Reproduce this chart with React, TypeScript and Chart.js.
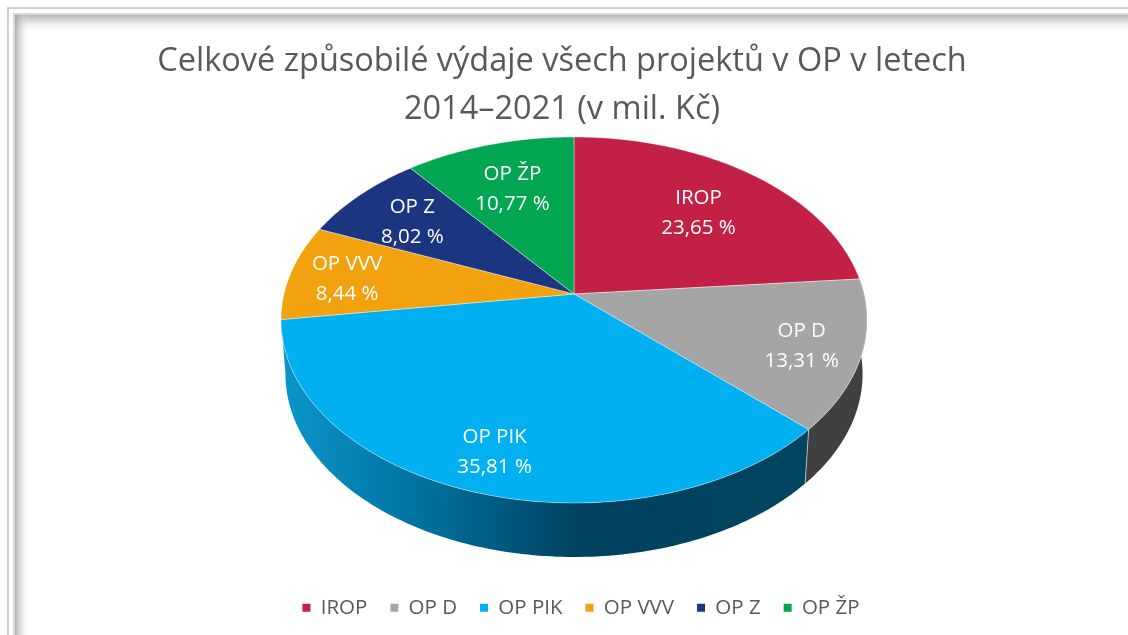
import React, { useEffect, useRef } from "react";
import { Chart, registerables } from "chart.js";

Chart.register(...registerables);

const categories = ["IROP", "OP D", "OP PIK", "OP VVV", "OP Z", "OP ŽP"];
const shares = [23.65, 13.31, 35.81, 8.44, 8.02, 10.77];
const sliceColors = ["#C32046", "#A5A5A5", "#00B0F0", "#F2A10F", "#1B3581", "#00A651"];
const titleLines = ["Celkové způsobilé výdaje všech projektů v OP v letech", "2014–2021 (v mil. Kč)"];
const labelRadii = [0.68, 0.8, 0.81, 0.8, 0.74, 0.7];

const FONT = '"Open Sans", sans-serif';
const CX = 574;
const CY = 294;
const K = 0.142;
const A = 179.3;
const B = 290;
const DEPTH = 54;
const LOWER_X = 0.985;

const project = (theta: number, f = 1, lower = false) => {
  const u = f * Math.sin(theta);
  const v = -f * Math.cos(theta);
  const d = 1 - K * v;
  const X = (B * u) / d;
  const Y = (A * v) / d;
  return lower ? { x: CX + X * LOWER_X, y: CY + Y + DEPTH } : { x: CX + X, y: CY + Y };
};

const sideFill = (ctx: CanvasRenderingContext2D, i: number) => {
  if (i === 1) return "#404040";
  if (i === 2) {
    const g = ctx.createLinearGradient(285, 0, 803, 0);
    g.addColorStop(0, "#0A95C8");
    g.addColorStop(0.3, "#006C98");
    g.addColorStop(0.57, "#004160");
    g.addColorStop(1, "#00455F");
    return g;
  }
  return "#555555";
};

const framePlugin = {
  id: "frame",
  beforeDraw(chart: any) {
    const { ctx, width, height } = chart;
    ctx.save();
    ctx.fillStyle = "#ffffff";
    ctx.fillRect(0, 0, width, height);
    const top = ctx.createLinearGradient(0, 15, 0, 33);
    top.addColorStop(0, "rgba(160,160,160,0.8)");
    top.addColorStop(0.4, "rgba(190,190,190,0.45)");
    top.addColorStop(1, "rgba(255,255,255,0)");
    ctx.fillStyle = top;
    ctx.fillRect(15, 15, width - 15, 18);
    const left = ctx.createLinearGradient(15, 0, 30, 0);
    left.addColorStop(0, "rgba(160,160,160,0.8)");
    left.addColorStop(0.4, "rgba(190,190,190,0.45)");
    left.addColorStop(1, "rgba(255,255,255,0)");
    ctx.fillStyle = left;
    ctx.fillRect(15, 15, 15, height - 15);
    ctx.fillStyle = "#CFCFCF";
    ctx.fillRect(7, 7, width - 7, 2);
    ctx.fillRect(7, 7, 2, height - 7);
    ctx.fillStyle = "#DADADA";
    ctx.fillRect(13, 13, width - 13, 2);
    ctx.fillRect(13, 13, 2, height - 13);
    ctx.restore();
  },
};

const shiftPlugin = {
  id: "shift",
  afterLayout(chart: any) {
    chart.titleBlock.left -= 2;
    chart.titleBlock.right -= 2;
    chart.legend.left += 17;
    chart.legend.right += 17;
  },
};

const pie3dPlugin = {
  id: "pie3d",
  beforeDatasetsDraw(chart: any) {
    const { ctx } = chart;
    const arcs = chart.getDatasetMeta(0).data;
    const range = (arc: any) => {
      const a0 = arc.startAngle + Math.PI / 2;
      const a1 = arc.endAngle + Math.PI / 2;
      const n = Math.max(2, Math.ceil(((a1 - a0) * 180) / Math.PI));
      return Array.from({ length: n + 1 }, (_, j) => a0 + ((a1 - a0) * j) / n);
    };
    ctx.save();
    ctx.lineJoin = "round";
    // extruded wall, front slices only
    [1, 2].forEach((i) => {
      const angles = range(arcs[i]);
      ctx.beginPath();
      angles.forEach((t: number, j: number) => {
        const p = project(t);
        j ? ctx.lineTo(p.x, p.y) : ctx.moveTo(p.x, p.y);
      });
      [...angles].reverse().forEach((t: number) => {
        const p = project(t, 1, true);
        ctx.lineTo(p.x, p.y);
      });
      ctx.closePath();
      ctx.fillStyle = sideFill(ctx, i);
      ctx.fill();
    });
    const seam = arcs[1].endAngle + Math.PI / 2;
    const s0 = project(seam);
    const s1 = project(seam, 1, true);
    ctx.strokeStyle = "rgba(255,255,255,0.55)";
    ctx.lineWidth = 1;
    ctx.beginPath();
    ctx.moveTo(s0.x, s0.y);
    ctx.lineTo(s1.x, s1.y);
    ctx.stroke();
    // top faces
    arcs.forEach((arc: any) => {
      ctx.beginPath();
      ctx.moveTo(CX, CY);
      range(arc).forEach((t: number) => {
        const p = project(t);
        ctx.lineTo(p.x, p.y);
      });
      ctx.closePath();
      ctx.fillStyle = arc.options.backgroundColor;
      ctx.fill();
      ctx.strokeStyle = "rgba(255,255,255,0.4)";
      ctx.lineWidth = 1;
      ctx.stroke();
    });
    // labels
    ctx.fillStyle = "#ffffff";
    ctx.font = `20.5px ${FONT}`;
    ctx.textAlign = "center";
    ctx.textBaseline = "middle";
    arcs.forEach((arc: any, i: number) => {
      const mid = (arc.startAngle + arc.endAngle) / 2 + Math.PI / 2;
      const p = project(mid, labelRadii[i]);
      ctx.fillText(categories[i], p.x, p.y - 12);
      ctx.fillText(`${shares[i].toFixed(2).replace(".", ",")} %`, p.x, p.y + 18);
    });
    ctx.restore();
    return false;
  },
};

export default function App() {
  const ref = useRef<HTMLCanvasElement>(null);
  useEffect(() => {
    document.body.style.margin = "0";
    document.body.style.background = "#fff";
    const chart = new Chart(ref.current!, {
      type: "pie",
      data: {
        labels: categories,
        datasets: [{ data: shares, backgroundColor: sliceColors, borderWidth: 0 }],
      },
      options: {
        animation: false,
        responsive: false,
        layout: { padding: { top: 0, bottom: 7, left: 0, right: 0 } },
        plugins: {
          tooltip: { enabled: false },
          title: {
            display: true,
            text: titleLines,
            color: "#595959",
            font: { family: FONT, size: 32.5, weight: "normal", lineHeight: 1.477 },
            padding: { top: 38, bottom: 6 },
          },
          legend: {
            display: true,
            position: "bottom",
            labels: {
              boxWidth: 8,
              boxHeight: 8,
              padding: 23,
              color: "#595959",
              font: { family: FONT, size: 20.5 },
            },
          },
        },
      },
      plugins: [framePlugin, shiftPlugin, pie3dPlugin],
    } as any);
    return () => chart.destroy();
  }, []);
  return (
    <div style={{ position: "fixed", left: 0, top: 0, width: 1128, height: 635, background: "#fff" }}>
      <canvas
        ref={ref}
        width={1128}
        height={635}
        style={{ display: "block", width: 1128, height: 635, filter: "blur(0.35px)" }}
      />
    </div>
  );
}
